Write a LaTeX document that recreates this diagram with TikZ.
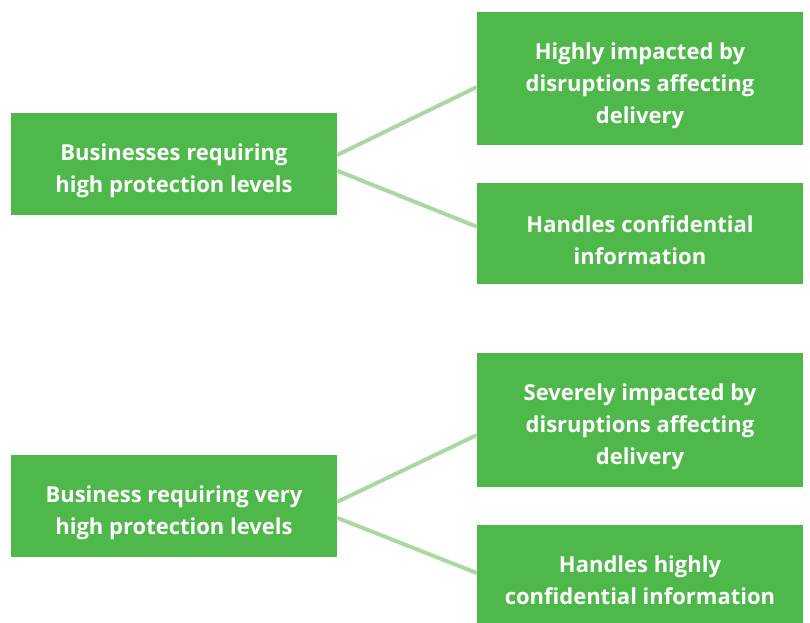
\documentclass[tikz,border=0pt]{standalone}
\usepackage{fontspec}
\setmainfont{Open Sans}
\usetikzlibrary{calc}
\definecolor{boxgreen}{HTML}{4EB84B}
\definecolor{linegreen}{HTML}{ABD8A2}
\begin{document}
\begin{tikzpicture}[x=1pt,y=-1pt,
  box/.style={fill=boxgreen, draw=none, inner sep=0pt, minimum width=326pt},
  txt/.style={text=white, inner sep=0pt, yshift=-7pt,
    font=\fontsize{22}{32}\selectfont\bfseries, align=center},
  conn/.style={draw=linegreen, line width=4pt}]
\useasboundingbox (0,0) rectangle (810,622);
\begin{scope}
\clip (0,0) rectangle (810,622);
\node[box, minimum height=101.7pt] (l1) at (174,163.85) {};
\node[box, minimum height=133pt] (r1) at (640,78.5) {};
\node[box, minimum height=101.6pt] (r2) at (640,233.5) {};
\node[box, minimum height=101.7pt] (l2) at (174,505.85) {};
\node[box, minimum height=134pt] (r3) at (640,420) {};
\node[box, minimum height=102pt] (r4) at (640,576) {};
\node[txt] (t1) at (l1.center) {Businesses requiring\\high protection levels};
\node[txt] (t2) at (r1.center) {Highly impacted by\\disruptions affecting\\delivery};
\node[txt] (t3) at (r2.center) {Handles confidential\\information};
\node[txt] (t4) at (l2.center) {Business requiring very\\high protection levels};
\node[txt] (t5) at (r3.center) {Severely impacted by\\disruptions affecting\\delivery};
\node[txt, yshift=3pt] (t6) at (r4.center) {Handles highly\\confidential information};
\draw[conn] ([yshift=8.85pt]l1.east) -- ([yshift=-8.5pt]r1.west);
\draw[conn] ([yshift=-6.85pt]l1.east) -- ([yshift=6.8pt]r2.west);
\draw[conn] ([yshift=4pt]l2.east) -- ([yshift=-15pt]r3.west);
\draw[conn] ([yshift=-12pt]l2.east) -- ([yshift=3pt]r4.west);
\end{scope}
\end{tikzpicture}
\end{document}
